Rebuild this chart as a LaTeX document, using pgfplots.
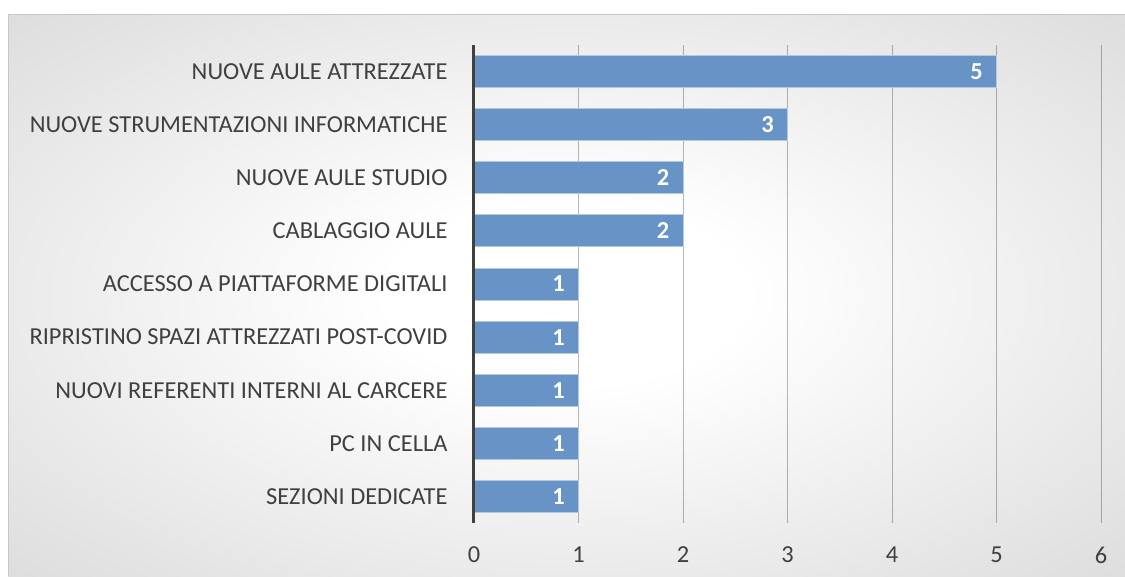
\documentclass[border=0pt]{standalone}
\usepackage{pgfplots}
\pgfplotsset{compat=1.18}
\usepackage{fontspec}
\setmainfont{Carlito}
\definecolor{barblue}{HTML}{6893C6}
\definecolor{baredge}{HTML}{B4C8E2}
\definecolor{txt}{HTML}{404040}
\pgfdeclareradialshading{bgshade}{\pgfpoint{0bp}{0bp}}{color(0bp)=(white); color(8bp)=(white); color(62bp)=(white!74!black); color(72bp)=(white!72!black)}
\begin{document}
\begin{tikzpicture}[x=1pt,y=1pt]
\useasboundingbox (0,0) rectangle (1125,576);
\fill[white] (0,0) rectangle (1125,576);
\shade[shading=bgshade] (8,0) rectangle (1125,561);
\draw[white!78!black, line width=1pt] (8,0) -- (8,561) -- (1125,561);
\begin{axis}[
  at={(474pt,53pt)}, anchor=south west,
  scale only axis, width=627pt, height=478pt,
  xbar, bar width=32pt,
  xmin=0, xmax=6, ymin=-0.5, ymax=8.5,
  xtick={0,1,2,3,4,5,6},
  ytick={0,1,2,3,4,5,6,7,8},
  yticklabels={SEZIONI DEDICATE, PC IN CELLA, NUOVI REFERENTI INTERNI AL CARCERE, RIPRISTINO SPAZI ATTREZZATI POST-COVID, ACCESSO A PIATTAFORME DIGITALI, CABLAGGIO AULE, NUOVE AULE STUDIO, NUOVE STRUMENTAZIONI INFORMATICHE, NUOVE AULE ATTREZZATE},
  xmajorgrids, grid style={draw=black, draw opacity=0.28, line width=1pt},
  axis line style={draw=none},
  axis x line*=bottom, axis y line*=left,
  major tick length=0pt,
  tick label style={font=\fontsize{24.4}{28}\selectfont, text=txt},
  /pgf/number format/assume math mode=true,
  xticklabel style={yshift=-20pt},
  yticklabel style={xshift=-23pt},
  nodes near coords,
  every node near coord/.append style={anchor=east, text=white, font=\fontsize{24.4}{28}\selectfont\bfseries, xshift=-10pt},
  clip=false,
]
\addplot[fill=barblue, draw=baredge, line width=1pt] coordinates {
  (1,0) (1,1) (1,2) (1,3) (1,4) (2,5) (2,6) (3,7) (5,8)
};
\draw[txt, line width=3pt] (axis cs:0,-0.5) -- (axis cs:0,8.5);
\end{axis}
\end{tikzpicture}
\end{document}
